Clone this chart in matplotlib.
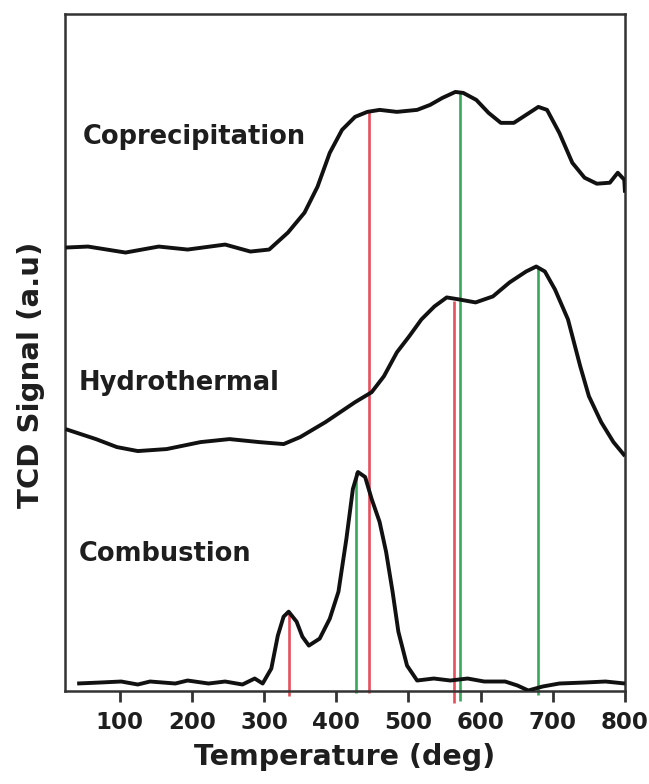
import numpy as np
import matplotlib
matplotlib.use("Agg")
import matplotlib.pyplot as plt

plt.rcParams['font.family'] = ['DejaVu Sans']

#------------------------------------------------------------------#
# TPR profiles (signal in arbitrary units)
#------------------------------------------------------------------#
T_cop = [25, 56, 108, 154, 194, 246, 281, 307, 333, 356, 374, 391, 408, 426,
         443, 460, 484, 512, 530, 547, 565, 576, 594, 611, 628, 646, 663, 680,
         692, 709, 727, 744, 761, 779, 790, 799, 800]
S_cop = [445, 446, 440, 446, 443, 448, 441, 443, 460, 480, 506, 540, 563, 576,
         581, 583, 581, 583, 588, 595, 601, 600, 593, 580, 570, 570, 578, 586,
         583, 560, 530, 515, 509, 510, 520, 513, 500]

T_hyd = [25, 67, 96, 125, 165, 212, 252, 293, 327, 350, 385, 426, 449, 466,
         484, 501, 518, 536, 553, 570, 593, 617, 640, 663, 677, 689, 703, 721,
         738, 750, 767, 784, 800]
S_hyd = [263, 253, 245, 241, 243, 250, 253, 250, 248, 255, 270, 290, 300, 316,
         340, 356, 373, 386, 395, 393, 390, 396, 410, 421, 426, 421, 403, 373,
         326, 296, 270, 250, 236]

T_com = [41, 73, 102, 125, 142, 177, 194, 223, 246, 270, 287, 298, 310, 319,
         327, 334, 345, 353, 362, 377, 391, 403, 414, 423, 430, 440, 449, 460,
         469, 478, 486, 498, 512, 535, 558, 582, 605, 634, 651, 666, 686, 709,
         744, 773, 800]
S_com = [8, 9, 10, 7, 10, 8, 11, 8, 10, 7, 13, 8, 23, 56,
         75, 80, 70, 55, 46, 53, 73, 100, 153, 203, 220, 215, 193, 170,
         140, 100, 60, 26, 11, 13, 11, 13, 10, 10, 6, 1, 5, 8,
         9, 10, 8]

# peak markers: position, top, bottom
red_T = [334, 446, 563]
red_top = [80, 581, 391]
red_bot = [-5, -2, -12]
green_T = [427, 572, 679]
green_top = [220, 601, 426]
green_bot = [-2, -10, -4]

labels = ["Coprecipitation", "Hydrothermal", "Combustion"]
label_x = [49, 43, 43]
label_y = [556, 309, 138]

xticks = [100, 200, 300, 400, 500, 600, 700, 800]

########### plot figure ################
fig = plt.figure(figsize=(6.49, 7.84), dpi=100)
ax = fig.add_axes([0.100, 0.118, 0.863, 0.864])

ax.vlines(red_T, red_bot, red_top, colors='#e4505c', linewidth=1.9, clip_on=False, zorder=2)
ax.vlines(green_T, green_bot, green_top, colors='#3aa85a', linewidth=1.9, clip_on=False, zorder=2)

for T, S in [(T_cop, S_cop), (T_hyd, S_hyd), (T_com, S_com)]:
    ax.plot(T, S, color='#111111', linewidth=2.8, solid_joinstyle='round',
            solid_capstyle='butt', zorder=3)

for lab, lx, ly in zip(labels, label_x, label_y):
    ax.text(lx, ly, lab, fontsize=18.5, fontweight='bold', color='#1e1e1e',
            ha='left', va='center')

ax.set_xlim(24, 800)
ax.set_ylim(0, 679)
ax.set_xticks(xticks)
ax.set_yticks([])
ax.tick_params(axis='x', direction='out', length=8, width=2.0, labelsize=16.5,
               color='#333333', labelcolor='#1e1e1e', pad=6)
for lbl in ax.get_xticklabels():
    lbl.set_fontweight('bold')
for axis in ['top', 'bottom', 'left', 'right']:
    ax.spines[axis].set_linewidth(1.8)
    ax.spines[axis].set_color('#333333')

ax.set_xlabel("Temperature (deg)", fontsize=20.5, fontweight='bold', color='#1e1e1e')
ax.set_ylabel("TCD Signal (a.u)", fontsize=21, fontweight='bold', color='#1e1e1e')
ax.xaxis.set_label_coords(0.50, -0.076)
ax.yaxis.set_label_coords(-0.036, 0.467)

plt.savefig('out.png', dpi=100)
